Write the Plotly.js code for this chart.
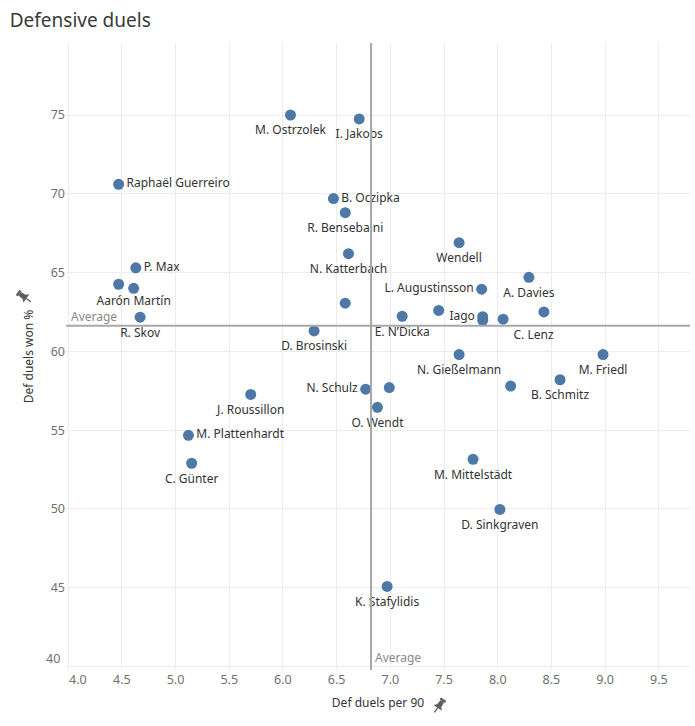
<!DOCTYPE html>
<html>
<head>
<meta charset="utf-8">
<script src="https://cdn.plot.ly/plotly-3.0.1.min.js"></script>
<style>
html,body{margin:0;padding:0;background:#fff;}
#chart{width:695px;height:726px;}
</style>
</head>
<body>
<div id="chart"></div>
<script>
// ---- data ----
const players = ["M. Ostrzolek","I. Jakobs","Raphaël Guerreiro","B. Oczipka","R. Bensebaini","N. Katterbach","Wendell","P. Max","A. Davies","","Aarón Martín","L. Augustinsson","","R. Skov","E. N’Dicka","","Iago","","C. Lenz","","D. Brosinski","N. Gießelmann","M. Friedl","B. Schmitz","","J. Roussillon","N. Schulz","","O. Wendt","M. Plattenhardt","C. Günter","M. Mittelstädt","D. Sinkgraven","K. Stafylidis"];
const duelsPer90 = [6.07,6.71,4.47,6.47,6.58,6.61,7.64,4.63,8.29,4.47,4.61,7.85,6.58,4.67,7.11,7.45,7.86,7.86,8.05,8.43,6.29,7.64,8.98,8.58,8.12,5.70,6.77,6.99,6.88,5.12,5.15,7.77,8.02,6.97];
const duelsWonPct = [75.0,74.75,70.6,69.7,68.8,66.2,66.9,65.3,64.7,64.26,64.0,63.95,63.06,62.17,62.23,62.6,62.2,61.97,62.04,62.5,61.3,59.8,59.8,58.2,57.8,57.27,57.6,57.7,56.45,54.67,52.9,53.15,49.97,45.08];
const avgX = 6.82;
const avgY = 61.62;
const xTicks = [4.0,4.5,5.0,5.5,6.0,6.5,7.0,7.5,8.0,8.5,9.0,9.5];
const yTicks = [40,45,50,55,60,65,70,75];

// label placement (style)
const BC='bottom center', MR='middle right', ML='middle left', BR='bottom right';
const labelPos = [BC,BC,MR,MR,BC,BC,BC,MR,BC,BC,BC,ML,BC,BC,BC,BC,ML,BC,BR,BC,BC,BC,BC,BC,BC,BC,ML,BC,BC,MR,BC,BC,BC,BC];
const labelGap = labelPos.map(p => p.startsWith('bottom') ? 15 : 11);
labelGap[10] = 11; // tighter gap for the crowded label above the average line

const FONT = 'Noto Sans, sans-serif';
const pinSvg = (rot) => 'data:image/svg+xml;utf8,' + encodeURIComponent(
 '<svg xmlns="http://www.w3.org/2000/svg" width="20" height="20" viewBox="0 0 20 20">' +
 '<g transform="rotate(' + rot + ' 10 10)" fill="#5f5f5f">' +
 '<rect x="6.5" y="1.5" width="7" height="2.5" rx="0.6"/>' +
 '<path d="M7.8 4 L12.2 4 L12.8 10 L15.5 12.8 L4.5 12.8 L7.2 10 Z"/>' +
 '<rect x="9.3" y="12.8" width="1.4" height="6"/>' +
 '</g></svg>');

const markers = {
  type: 'scatter', mode: 'markers',
  x: duelsPer90, y: duelsWonPct,
  marker: {size: 11, color: '#4e79a7', line: {width: 0}},
  hoverinfo: 'none', cliponaxis: false
};
const labels = {
  type: 'scatter', mode: 'markers+text',
  x: duelsPer90, y: duelsWonPct, text: players,
  textposition: labelPos,
  textfont: {family: FONT, size: 12, color: '#333333'},
  marker: {size: labelGap, color: 'rgba(0,0,0,0)', line: {width: 0}},
  hoverinfo: 'none', cliponaxis: false
};

const xText = xTicks.map(v => v.toFixed(1));
xText[0] = '\u00a0\u00a0\u00a0\u00a0\u00a0\u00a0' + xText[0];
const yText = yTicks.map(String);
yText[0] = '';

const layout = {
  width: 695, height: 726,
  margin: {l: 66, r: 5, t: 43, b: 56},
  paper_bgcolor: '#ffffff', plot_bgcolor: '#ffffff',
  showlegend: false,
  font: {family: FONT},
  title: {text: 'Defensive duels', x: 0.014, xanchor: 'left', y: 0.972, yanchor: 'middle',
          font: {family: FONT, size: 19, color: '#3a3a3a'}},
  xaxis: {
    range: [3.98, 9.79], tickvals: xTicks, ticktext: xText,
    showgrid: true, gridcolor: '#ececec', gridwidth: 1, zeroline: false, showline: false,
    ticks: '', tickfont: {family: FONT, size: 12.5, color: '#707070'},
    title: {text: 'Def duels per 90', font: {family: FONT, size: 12, color: '#333333'}, standoff: 12},
    fixedrange: true
  },
  yaxis: {
    range: [39.78, 79.57], tickvals: yTicks, ticktext: yText,
    showgrid: true, gridcolor: '#ececec', gridwidth: 1, zeroline: false, showline: false,
    ticks: '', tickfont: {family: FONT, size: 12.5, color: '#707070'},
    title: {text: 'Def duels won %', font: {family: FONT, size: 12, color: '#333333'}, standoff: 14},
    fixedrange: true
  },
  shapes: [
    {type: 'line', xref: 'x', yref: 'paper', x0: avgX, x1: avgX, y0: 0, y1: 1,
     line: {color: '#a8a8a8', width: 2}},
    {type: 'line', xref: 'paper', yref: 'y', x0: 0, x1: 1, y0: avgY, y1: avgY,
     line: {color: '#a8a8a8', width: 2}}
  ],
  annotations: [
    {xref: 'paper', yref: 'y', x: 0, y: avgY, xanchor: 'left', yanchor: 'bottom',
     text: 'Average', showarrow: false, xshift: 3, yshift: -1,
     font: {family: FONT, size: 12, color: '#888888'}},
    {xref: 'x', yref: 'paper', x: avgX, y: 0, xanchor: 'left', yanchor: 'bottom',
     text: 'Average', showarrow: false, xshift: 2, yshift: 2,
     font: {family: FONT, size: 12, color: '#888888'}},
    {xref: 'paper', yref: 'y', x: 0, y: yTicks[0], xanchor: 'right', yanchor: 'middle',
     text: String(yTicks[0]), showarrow: false, xshift: -4, yshift: 8,
     font: {family: FONT, size: 12.5, color: '#707070'}}
  ],
  images: [
    {source: pinSvg(35), xref: 'paper', yref: 'paper', x: 0.583, y: -0.057,
     sizex: 0.03, sizey: 0.03, xanchor: 'left', yanchor: 'middle', sizing: 'contain', layer: 'above'},
    {source: pinSvg(-55), xref: 'paper', yref: 'paper', x: -0.082, y: 0.595,
     sizex: 0.03, sizey: 0.03, xanchor: 'left', yanchor: 'middle', sizing: 'contain', layer: 'above'}
  ]
};

Plotly.newPlot('chart', [markers, labels], layout, {displayModeBar: false, staticPlot: true});
</script>
</body>
</html>
